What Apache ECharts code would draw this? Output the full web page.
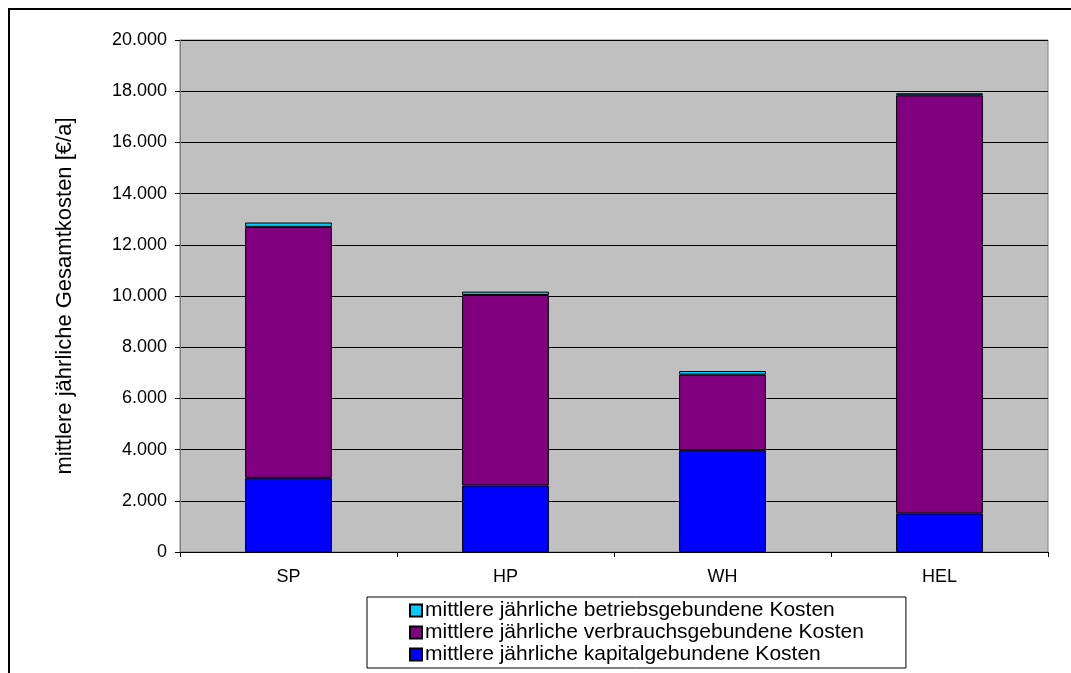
<!DOCTYPE html>
<html>
<head>
<meta charset="utf-8">
<script src="https://cdn.jsdelivr.net/npm/echarts@6/dist/echarts.min.js"></script>
<style>
  html, body { margin: 0; padding: 0; background: #fff; }
  #chart { width: 1071px; height: 673px; }
</style>
</head>
<body>
<div id="chart"></div>
<script>
// Heating systems compared
const categories = ['SP', 'HP', 'WH', 'HEL'];

// Mean annual cost components in €/a
const kapitalKosten = [2900, 2600, 3980, 1510];
const verbrauchsKosten = [9800, 7440, 2950, 16330];
const betriebsKosten = [170, 130, 140, 80];

const yTicks = { min: 0, max: 20000, interval: 2000 };

const seriesNames = {
  kapital: 'mittlere jährliche kapitalgebundene Kosten',
  verbrauch: 'mittlere jährliche verbrauchsgebundene Kosten',
  betrieb: 'mittlere jährliche betriebsgebundene Kosten'
};

const font = 'Liberation Sans, Arial, sans-serif';

function fmt(v) {
  // German thousands separator
  return String(v).replace(/\B(?=(\d{3})+(?!\d))/g, '.');
}

const barStyle = (color) => ({ color: color, borderColor: '#000', borderWidth: 1 });

const chart = echarts.init(document.getElementById('chart'), null, { renderer: 'canvas' });

chart.setOption({
  animation: false,
  backgroundColor: '#fff',
  textStyle: { fontFamily: font, color: '#000' },
  graphic: [
    { type: 'line', shape: { x1: 8, y1: 9, x2: 1071, y2: 9 }, style: { stroke: '#000', lineWidth: 2 } },
    { type: 'line', shape: { x1: 9, y1: 8, x2: 9, y2: 673 }, style: { stroke: '#000', lineWidth: 2 } }
  ],
  grid: {
    left: 180, top: 40, right: 23, bottom: 121,
    show: true, backgroundColor: '#C0C0C0', borderColor: '#808080', borderWidth: 1
  },
  legend: {
    orient: 'vertical',
    left: 367, top: 597,
    padding: [3, 42, 3, 42],
    itemGap: 1,
    itemWidth: 12, itemHeight: 12,
    icon: 'rect',
    borderColor: '#000', borderWidth: 1,
    backgroundColor: '#fff',
    textStyle: { fontFamily: font, fontSize: 21, lineHeight: 21, color: '#000', padding: [0, 0, 0, -2] },
    data: [seriesNames.betrieb, seriesNames.verbrauch, seriesNames.kapital]
  },
  xAxis: {
    type: 'category',
    data: categories,
    axisLine: { lineStyle: { color: '#000', width: 1 } },
    axisTick: { show: true, alignWithLabel: false, length: 5, lineStyle: { color: '#000' } },
    axisLabel: { fontFamily: font, fontSize: 18, color: '#000', margin: 16 }
  },
  yAxis: {
    type: 'value',
    min: yTicks.min, max: yTicks.max, interval: yTicks.interval,
    name: 'mittlere jährliche Gesamtkosten [€/a]',
    nameLocation: 'middle',
    nameGap: 104,
    nameTextStyle: { fontFamily: font, fontSize: 22, color: '#000' },
    axisLine: { show: true, lineStyle: { color: '#808080', width: 1 } },
    axisTick: { show: true, length: 5, lineStyle: { color: '#000' } },
    axisLabel: { fontFamily: font, fontSize: 18, color: '#000', margin: 13, formatter: fmt },
    splitLine: { show: true, lineStyle: { color: '#000', width: 1 } }
  },
  series: [
    { name: seriesNames.kapital, type: 'bar', stack: 'k', barWidth: '40%', data: kapitalKosten, itemStyle: barStyle('#0000FF') },
    { name: seriesNames.verbrauch, type: 'bar', stack: 'k', data: verbrauchsKosten, itemStyle: barStyle('#800080') },
    { name: seriesNames.betrieb, type: 'bar', stack: 'k', data: betriebsKosten, itemStyle: barStyle('#00CCFF') }
  ]
});
</script>
</body>
</html>
